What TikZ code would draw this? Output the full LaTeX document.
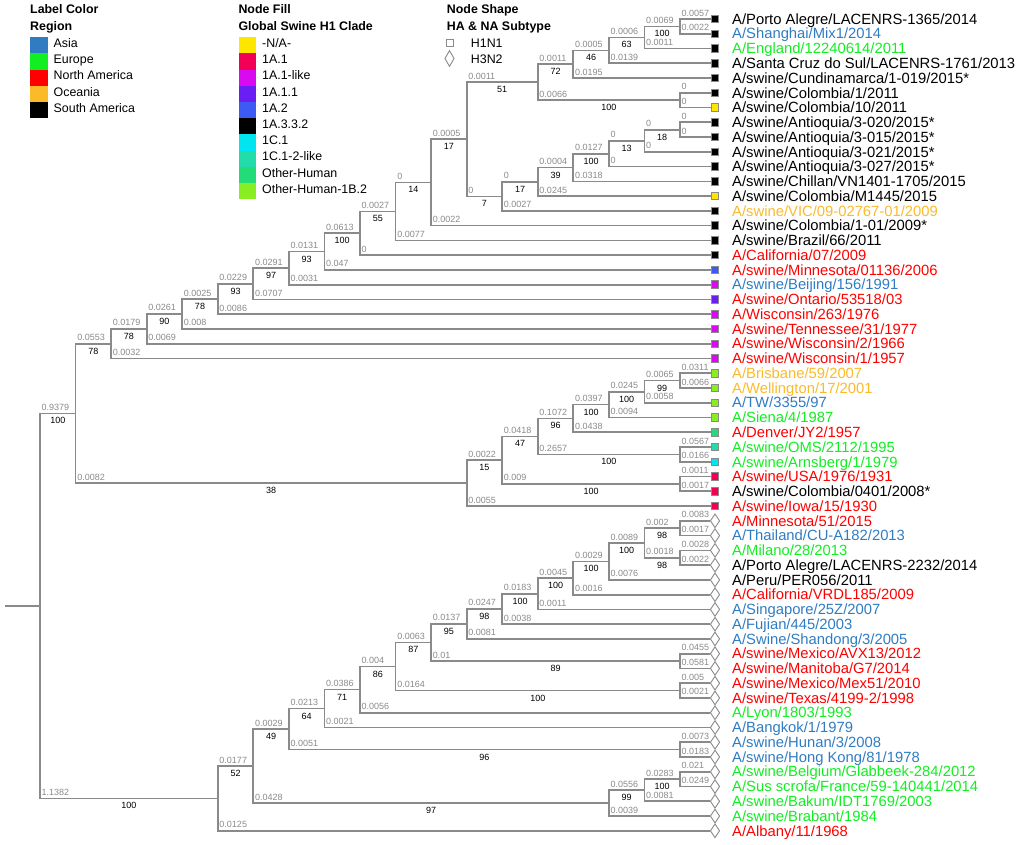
\documentclass[tikz,border=0pt]{standalone}
\usepackage{fontspec}
\setmainfont{Liberation Sans}
\usetikzlibrary{calc,shapes.geometric}

\definecolor{brc}{RGB}{138,138,138}
\definecolor{casia}{HTML}{2F7CC2}
\definecolor{ceur}{HTML}{11EE22}
\definecolor{cna}{HTML}{FF0000}
\definecolor{coce}{HTML}{FBBA2A}
\definecolor{csa}{HTML}{000000}
\definecolor{fna}{HTML}{FFE600}
\definecolor{f11}{HTML}{F20056}
\definecolor{f11l}{HTML}{D90AF0}
\definecolor{f111}{HTML}{6A1EF5}
\definecolor{f12}{HTML}{3D5AF5}
\definecolor{f1332}{HTML}{000000}
\definecolor{f1c1}{HTML}{00E5F0}
\definecolor{f1c12}{HTML}{22DDAA}
\definecolor{foh}{HTML}{22DD77}
\definecolor{fohb}{HTML}{88EE22}

\tikzset{
 br/.style={draw=brc, line width=1.7pt},
 bl/.style={font=\fontsize{9}{10}\selectfont, text=brc, inner sep=0pt},
 bs/.style={font=\fontsize{9}{10}\selectfont, text=black, inner sep=0pt},
 lab/.style={font=\fontsize{14.8}{16}\selectfont, inner sep=0pt, anchor=base west},
 leg/.style={font=\fontsize{12.4}{14}\selectfont, inner sep=0pt, anchor=base west},
 legh/.style={font=\fontsize{12.4}{14}\selectfont\bfseries, inner sep=0pt, anchor=base west},
 sq/.style={rectangle, draw=brc, line width=0.9pt, minimum size=7.5pt, inner sep=0pt},
 dm/.style={diamond, draw=brc, fill=white, line width=0.9pt, inner sep=0pt, minimum width=9.5pt, minimum height=14pt},
 sw/.style={rectangle, inner sep=0pt, minimum width=17.7pt, minimum height=16.2pt, anchor=north west},
}

\newcommand\lf[4]{\pgfmathsetmacro\ly{19+(#1-1)*14.76}
 \node[#2] (L#1) at (715,\ly) {};
 \node[lab, text=#3] (T#1) at (732,\ly+5.2) {#4};}
\newcommand\nd[4]{\path let \p3=($(#3)!0.5!(#4)$) in coordinate (#1) at ({(40+35.556*#2)*1pt},\y3);}
\newcommand\ed[4]{\draw[br] (#1) |- (#2);
 \path let \p1=(#1), \p2=(#2) in
 node[bl, anchor=south west] at (\x1+1.5pt, \y2+2.7pt) {#3}
 node[bs, anchor=north] at ({0.5*\x1+0.5*\x2}, \y2-4pt) {#4};}

\begin{document}
\begin{tikzpicture}[x=1pt, y=-1pt]
\useasboundingbox (0,0) rectangle (1020,844);

% ---------- legends ----------
\node[legh] (lc) at (30,13.7) {Label Color};
\node[legh] (rg) at (30,30.1) {Region};
\foreach \cc/\nm [count=\i from 0] in {casia/{Asia}, ceur/{Europe}, cna/{North America}, coce/{Oceania}, csa/{South America}}{
  \node[sw, fill=\cc] (rs\i) at (30,37+16.2*\i) {};
  \node[leg] (rt\i) at (53.5,47.4+16.2*\i) {\nm};
}
\node[legh] (nf) at (238.3,13.7) {Node Fill};
\node[legh] (gc) at (238.3,30.1) {Global Swine H1 Clade};
\foreach \cc/\nm [count=\i from 0] in {fna/{-N/A-}, f11/{1A.1}, f11l/{1A.1-like}, f111/{1A.1.1}, f12/{1A.2}, f1332/{1A.3.3.2}, f1c1/{1C.1}, f1c12/{1C.1-2-like}, foh/{Other-Human}, fohb/{Other-Human-1B.2}}{
  \node[sw, fill=\cc] (cs\i) at (238.3,37+16.2*\i) {};
  \node[leg] (ct\i) at (262,47.4+16.2*\i) {\nm};
}
\node[legh] (ns) at (446.7,13.7) {Node Shape};
\node[legh] (st) at (446.7,30.1) {HA \& NA Subtype};
\node[sq, fill=white] (ksq) at (450,42.7) {};
\node[leg] (kt1) at (470.7,47.1) {H1N1};
\node[dm, minimum height=16pt] (kdm) at (449.5,58.5) {};
\node[leg] (kt2) at (470.7,63.7) {H3N2};

% ---------- leaves ----------
\lf{1}{sq,fill=black}{csa}{A/Porto Alegre/LACENRS-1365/2014}
\lf{2}{sq,fill=black}{casia}{A/Shanghai/Mix1/2014}
\lf{3}{sq,fill=black}{ceur}{A/England/12240614/2011}
\lf{4}{sq,fill=black}{csa}{A/Santa Cruz do Sul/LACENRS-1761/2013}
\lf{5}{sq,fill=black}{csa}{A/swine/Cundinamarca/1-019/2015*}
\lf{6}{sq,fill=black}{csa}{A/swine/Colombia/1/2011}
\lf{7}{sq,fill=fna}{csa}{A/swine/Colombia/10/2011}
\lf{8}{sq,fill=black}{csa}{A/swine/Antioquia/3-020/2015*}
\lf{9}{sq,fill=black}{csa}{A/swine/Antioquia/3-015/2015*}
\lf{10}{sq,fill=black}{csa}{A/swine/Antioquia/3-021/2015*}
\lf{11}{sq,fill=black}{csa}{A/swine/Antioquia/3-027/2015*}
\lf{12}{sq,fill=black}{csa}{A/swine/Chillan/VN1401-1705/2015}
\lf{13}{sq,fill=fna}{csa}{A/swine/Colombia/M1445/2015}
\lf{14}{sq,fill=black}{coce}{A/swine/VIC/09-02767-01/2009}
\lf{15}{sq,fill=black}{csa}{A/swine/Colombia/1-01/2009*}
\lf{16}{sq,fill=black}{csa}{A/swine/Brazil/66/2011}
\lf{17}{sq,fill=black}{cna}{A/California/07/2009}
\lf{18}{sq,fill=f12}{cna}{A/swine/Minnesota/01136/2006}
\lf{19}{sq,fill=f11l}{casia}{A/swine/Beijing/156/1991}
\lf{20}{sq,fill=f111}{cna}{A/swine/Ontario/53518/03}
\lf{21}{sq,fill=f11l}{cna}{A/Wisconsin/263/1976}
\lf{22}{sq,fill=f11l}{cna}{A/swine/Tennessee/31/1977}
\lf{23}{sq,fill=f11l}{cna}{A/swine/Wisconsin/2/1966}
\lf{24}{sq,fill=f11l}{cna}{A/swine/Wisconsin/1/1957}
\lf{25}{sq,fill=fohb}{coce}{A/Brisbane/59/2007}
\lf{26}{sq,fill=fohb}{coce}{A/Wellington/17/2001}
\lf{27}{sq,fill=fohb}{casia}{A/TW/3355/97}
\lf{28}{sq,fill=fohb}{ceur}{A/Siena/4/1987}
\lf{29}{sq,fill=foh}{cna}{A/Denver/JY2/1957}
\lf{30}{sq,fill=f1c12}{ceur}{A/swine/OMS/2112/1995}
\lf{31}{sq,fill=f1c1}{ceur}{A/swine/Arnsberg/1/1979}
\lf{32}{sq,fill=f11}{cna}{A/swine/USA/1976/1931}
\lf{33}{sq,fill=f11}{csa}{A/swine/Colombia/0401/2008*}
\lf{34}{sq,fill=f11}{cna}{A/swine/Iowa/15/1930}
\lf{35}{dm}{cna}{A/Minnesota/51/2015}
\lf{36}{dm}{casia}{A/Thailand/CU-A182/2013}
\lf{37}{dm}{ceur}{A/Milano/28/2013}
\lf{38}{dm}{csa}{A/Porto Alegre/LACENRS-2232/2014}
\lf{39}{dm}{csa}{A/Peru/PER056/2011}
\lf{40}{dm}{cna}{A/California/VRDL185/2009}
\lf{41}{dm}{casia}{A/Singapore/25Z/2007}
\lf{42}{dm}{casia}{A/Fujian/445/2003}
\lf{43}{dm}{casia}{A/Swine/Shandong/3/2005}
\lf{44}{dm}{cna}{A/swine/Mexico/AVX13/2012}
\lf{45}{dm}{cna}{A/swine/Manitoba/G7/2014}
\lf{46}{dm}{cna}{A/swine/Mexico/Mex51/2010}
\lf{47}{dm}{cna}{A/swine/Texas/4199-2/1998}
\lf{48}{dm}{ceur}{A/Lyon/1803/1993}
\lf{49}{dm}{casia}{A/Bangkok/1/1979}
\lf{50}{dm}{casia}{A/swine/Hunan/3/2008}
\lf{51}{dm}{casia}{A/swine/Hong Kong/81/1978}
\lf{52}{dm}{ceur}{A/swine/Belgium/Glabbeek-284/2012}
\lf{53}{dm}{ceur}{A/Sus scrofa/France/59-140441/2014}
\lf{54}{dm}{ceur}{A/swine/Bakum/IDT1769/2003}
\lf{55}{dm}{ceur}{A/swine/Brabant/1984}
\lf{56}{dm}{cna}{A/Albany/11/1968}

% ---------- internal nodes ----------
\nd{a18}{18}{L1}{L2}
\nd{a17}{17}{a18}{L3}
\nd{a16}{16}{a17}{L4}
\nd{a15}{15}{a16}{L5}
\nd{b18}{18}{L6}{L7}
\nd{a14}{14}{a15}{b18}
\nd{c18}{18}{L8}{L9}
\nd{c17}{17}{c18}{L10}
\nd{c16}{16}{c17}{L11}
\nd{c15}{15}{c16}{L12}
\nd{c14}{14}{c15}{L13}
\nd{c13}{13}{c14}{L14}
\nd{u12}{12}{a14}{c13}
\nd{u11}{11}{u12}{L15}
\nd{u10}{10}{u11}{L16}
\nd{u9}{9}{u10}{L17}
\nd{u8}{8}{u9}{L18}
\nd{u7}{7}{u8}{L19}
\nd{u6}{6}{u7}{L20}
\nd{u5}{5}{u6}{L21}
\nd{u4}{4}{u5}{L22}
\nd{u3}{3}{u4}{L23}
\nd{u2}{2}{u3}{L24}
\nd{d18}{18}{L25}{L26}
\nd{d17}{17}{d18}{L27}
\nd{d16}{16}{d17}{L28}
\nd{d15}{15}{d16}{L29}
\nd{e18}{18}{L30}{L31}
\nd{d14}{14}{d15}{e18}
\nd{f18}{18}{L32}{L33}
\nd{d13}{13}{d14}{f18}
\nd{d12}{12}{d13}{L34}
\nd{hone}{1}{u2}{d12}
\nd{gA}{18}{L35}{L36}
\nd{gB}{18}{L37}{L38}
\nd{g17}{17}{gA}{gB}
\nd{g16}{16}{g17}{L39}
\nd{g15}{15}{g16}{L40}
\nd{g14}{14}{g15}{L41}
\nd{g13}{13}{g14}{L42}
\nd{g12}{12}{g13}{L43}
\nd{hA}{18}{L44}{L45}
\nd{g11}{11}{g12}{hA}
\nd{hB}{18}{L46}{L47}
\nd{g10}{10}{g11}{hB}
\nd{g9}{9}{g10}{L48}
\nd{g8}{8}{g9}{L49}
\nd{hC}{18}{L50}{L51}
\nd{g7}{7}{g8}{hC}
\nd{iA}{18}{L52}{L53}
\nd{i17}{17}{iA}{L54}
\nd{i16}{16}{i17}{L55}
\nd{g6}{6}{g7}{i16}
\nd{hthree}{5}{g6}{L56}
\nd{root}{0}{hone}{hthree}
\path let \p1=(root) in coordinate (stub) at (5pt,\y1);

% ---------- edges ----------
\draw[br] (stub) -- (root);
\ed{root}{hone}{0.9379}{100}
\ed{root}{hthree}{1.1382}{100}
\ed{hone}{u2}{0.0553}{78}
\ed{hone}{d12}{0.0082}{38}
\ed{u2}{u3}{0.0179}{78}
\ed{u2}{L24}{0.0032}{}
\ed{u3}{u4}{0.0261}{90}
\ed{u3}{L23}{0.0069}{}
\ed{u4}{u5}{0.0025}{78}
\ed{u4}{L22}{0.008}{}
\ed{u5}{u6}{0.0229}{93}
\ed{u5}{L21}{0.0086}{}
\ed{u6}{u7}{0.0291}{97}
\ed{u6}{L20}{0.0707}{}
\ed{u7}{u8}{0.0131}{93}
\ed{u7}{L19}{0.0031}{}
\ed{u8}{u9}{0.0613}{100}
\ed{u8}{L18}{0.047}{}
\ed{u9}{u10}{0.0027}{55}
\ed{u9}{L17}{0}{}
\ed{u10}{u11}{0}{14}
\ed{u10}{L16}{0.0077}{}
\ed{u11}{u12}{0.0005}{17}
\ed{u11}{L15}{0.0022}{}
\ed{u12}{a14}{0.0011}{51}
\ed{u12}{c13}{0}{7}
\ed{a14}{a15}{0.0011}{72}
\ed{a14}{b18}{0.0066}{100}
\ed{a15}{a16}{0.0005}{46}
\ed{a15}{L5}{0.0195}{}
\ed{a16}{a17}{0.0006}{63}
\ed{a16}{L4}{0.0139}{}
\ed{a17}{a18}{0.0069}{100}
\ed{a17}{L3}{0.0011}{}
\ed{a18}{L1}{0.0057}{}
\ed{a18}{L2}{0.0022}{}
\ed{b18}{L6}{0}{}
\ed{b18}{L7}{0}{}
\ed{c13}{c14}{0}{17}
\ed{c13}{L14}{0.0027}{}
\ed{c14}{c15}{0.0004}{39}
\ed{c14}{L13}{0.0245}{}
\ed{c15}{c16}{0.0127}{100}
\ed{c15}{L12}{0.0318}{}
\ed{c16}{c17}{0}{13}
\ed{c16}{L11}{0}{}
\ed{c17}{c18}{0}{18}
\ed{c17}{L10}{0}{}
\ed{c18}{L8}{0}{}
\ed{c18}{L9}{0}{}
\ed{d12}{d13}{0.0022}{15}
\ed{d12}{L34}{0.0055}{}
\ed{d13}{d14}{0.0418}{47}
\ed{d13}{f18}{0.009}{100}
\ed{d14}{d15}{0.1072}{96}
\ed{d14}{e18}{0.2657}{100}
\ed{d15}{d16}{0.0397}{100}
\ed{d15}{L29}{0.0438}{}
\ed{d16}{d17}{0.0245}{100}
\ed{d16}{L28}{0.0094}{}
\ed{d17}{d18}{0.0065}{99}
\ed{d17}{L27}{0.0058}{}
\ed{d18}{L25}{0.0311}{}
\ed{d18}{L26}{0.0066}{}
\ed{e18}{L30}{0.0567}{}
\ed{e18}{L31}{0.0166}{}
\ed{f18}{L32}{0.0011}{}
\ed{f18}{L33}{0.0017}{}
\ed{hthree}{g6}{0.0177}{52}
\ed{hthree}{L56}{0.0125}{}
\ed{g6}{g7}{0.0029}{49}
\ed{g6}{i16}{0.0428}{97}
\ed{i16}{i17}{0.0556}{99}
\ed{i16}{L55}{0.0039}{}
\ed{i17}{iA}{0.0283}{100}
\ed{i17}{L54}{0.0081}{}
\ed{iA}{L52}{0.021}{}
\ed{iA}{L53}{0.0249}{}
\ed{g7}{g8}{0.0213}{64}
\ed{g7}{hC}{0.0051}{96}
\ed{hC}{L50}{0.0073}{}
\ed{hC}{L51}{0.0183}{}
\ed{g8}{g9}{0.0386}{71}
\ed{g8}{L49}{0.0021}{}
\ed{g9}{g10}{0.004}{86}
\ed{g9}{L48}{0.0056}{}
\ed{g10}{g11}{0.0063}{87}
\ed{g10}{hB}{0.0164}{100}
\ed{hB}{L46}{0.005}{}
\ed{hB}{L47}{0.0021}{}
\ed{g11}{g12}{0.0137}{95}
\ed{g11}{hA}{0.01}{89}
\ed{hA}{L44}{0.0455}{}
\ed{hA}{L45}{0.0581}{}
\ed{g12}{g13}{0.0247}{98}
\ed{g12}{L43}{0.0081}{}
\ed{g13}{g14}{0.0183}{100}
\ed{g13}{L42}{0.0038}{}
\ed{g14}{g15}{0.0045}{100}
\ed{g14}{L41}{0.0011}{}
\ed{g15}{g16}{0.0029}{100}
\ed{g15}{L40}{0.0016}{}
\ed{g16}{g17}{0.0089}{100}
\ed{g16}{L39}{0.0076}{}
\ed{g17}{gA}{0.002}{98}
\ed{g17}{gB}{0.0018}{98}
\ed{gA}{L35}{0.0083}{}
\ed{gA}{L36}{0.0017}{}
\ed{gB}{L37}{0.0028}{}
\ed{gB}{L38}{0.0022}{}
\end{tikzpicture}
\end{document}
